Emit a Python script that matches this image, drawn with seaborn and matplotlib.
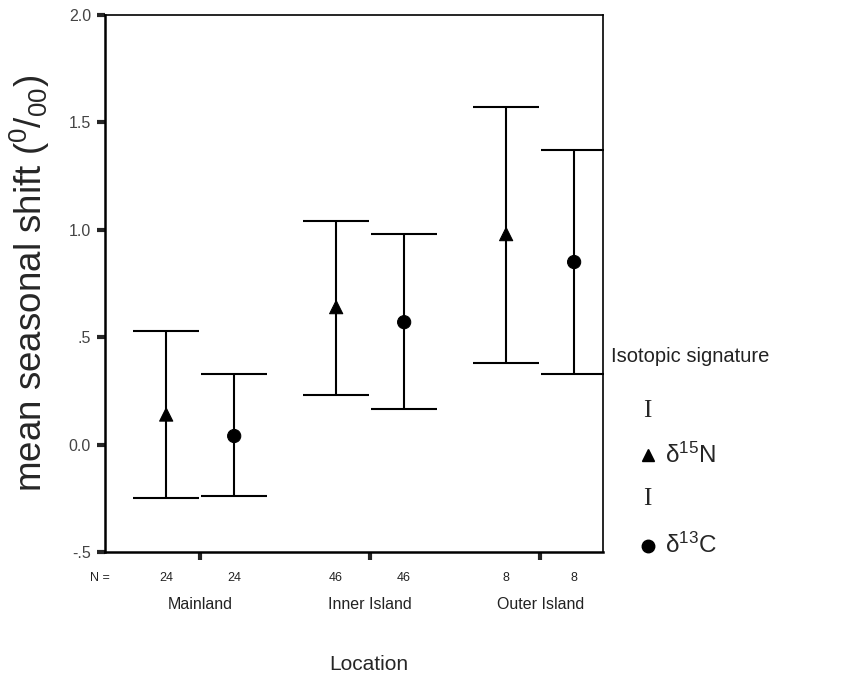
import numpy as np
import pandas as pd
import matplotlib
matplotlib.use("Agg")
import matplotlib.pyplot as plt
import matplotlib.transforms as mtransforms
import seaborn as sns

# ---- data ----
locations = ["Mainland", "Inner Island", "Outer Island"]
n_counts = [24, 46, 8]
n15_mean = [0.14, 0.64, 0.98]
n15_low = [-0.25, 0.23, 0.38]
n15_high = [0.53, 1.04, 1.57]
c13_mean = [0.04, 0.57, 0.85]
c13_low = [-0.24, 0.165, 0.33]
c13_high = [0.33, 0.98, 1.37]
y_ticks = [-0.5, 0.0, 0.5, 1.0, 1.5, 2.0]
y_ticklabels = ["-.5", "0.0", ".5", "1.0", "1.5", "2.0"]

sns.set_style("ticks")
plt.rcParams["font.family"] = ["Liberation Sans", "DejaVu Sans"]
plt.rcParams["mathtext.fontset"] = "custom"
plt.rcParams["mathtext.rm"] = "Liberation Sans"
plt.rcParams["mathtext.default"] = "regular"

offset = 0.2
rows = []
for i, loc in enumerate(locations):
    rows.append(dict(loc=loc, sig="d15N", x=i - offset, mean=n15_mean[i],
                     low=n15_low[i], high=n15_high[i], n=n_counts[i]))
    rows.append(dict(loc=loc, sig="d13C", x=i + offset, mean=c13_mean[i],
                     low=c13_low[i], high=c13_high[i], n=n_counts[i]))
df = pd.DataFrame(rows)

fig = plt.figure(figsize=(8.51, 6.82), dpi=100)
ax = fig.add_axes([0.1234, 0.1906, 0.5852, 0.7874])

# error bars
ax.errorbar(df["x"], df["mean"],
            yerr=[df["mean"] - df["low"], df["high"] - df["mean"]],
            fmt="none", ecolor="black", elinewidth=1.5, capsize=24,
            capthick=1.5, zorder=2)

sns.scatterplot(data=df, x="x", y="mean", style="sig",
                markers={"d15N": "^", "d13C": "o"},
                color="black", s=90, edgecolor="black", legend=False,
                ax=ax, zorder=3)

ax.set_xlim(-0.56, 2.37)
ax.set_ylim(-0.5, 2.0)
ax.set_yticks(y_ticks)
ax.set_yticklabels(y_ticklabels, fontsize=11.5, color="#444444")
ax.set_xticks([0.0, 1.0, 2.0])
ax.set_xticklabels([])
ax.tick_params(axis="y", direction="out", length=6, width=3, pad=4)
ax.tick_params(axis="x", direction="out", length=6, width=3)
for side in ["left", "bottom", "top", "right"]:
    ax.spines[side].set_visible(True)
    ax.spines[side].set_linewidth(1.8)
    ax.spines[side].set_color("black")
ax.spines["top"].set_linewidth(1.2)
ax.spines["right"].set_linewidth(1.2)
ax.set_xlabel("")
ax.set_ylabel("mean seasonal shift ($^{0}$/$_{00}$)", fontsize=26.5, labelpad=12)

# N counts and category labels beneath the axis
trans = mtransforms.blended_transform_factory(ax.transData, ax.transAxes)
for _, r in df.iterrows():
    ax.text(r["x"], -0.048, str(r["n"]), transform=trans, ha="center",
            va="center", fontsize=9, color="#222222")
ax.text(-0.53, -0.048, "N =", transform=trans, ha="right", va="center",
        fontsize=9, color="#222222")
for i, loc in enumerate(locations):
    ax.text(i, -0.098, loc, transform=trans, ha="center", va="center",
            fontsize=11.5, color="#222222")
fig.text(0.433, 0.025, "Location", ha="center", va="center", fontsize=15)

# legend (manual, SPSS style)
fig.text(0.718, 0.478, "Isotopic signature", ha="left", va="center", fontsize=14.5,
         color="#222222")
fig.text(0.761, 0.398, "I", ha="center", va="center", fontsize=18,
         family="Liberation Serif")
fig.text(0.761, 0.268, "I", ha="center", va="center", fontsize=18,
         family="Liberation Serif")
fig.lines.append(plt.Line2D([0.761], [0.333], marker="^", color="black",
                            markersize=8, transform=fig.transFigure))
fig.lines.append(plt.Line2D([0.761], [0.200], marker="o", color="black",
                            markersize=9, transform=fig.transFigure))
fig.text(0.781, 0.333, "δ$^{15}$N", ha="left", va="center", fontsize=17.5)
fig.text(0.781, 0.200, "δ$^{13}$C", ha="left", va="center", fontsize=17.5)

fig.savefig("out.png", dpi=100)
